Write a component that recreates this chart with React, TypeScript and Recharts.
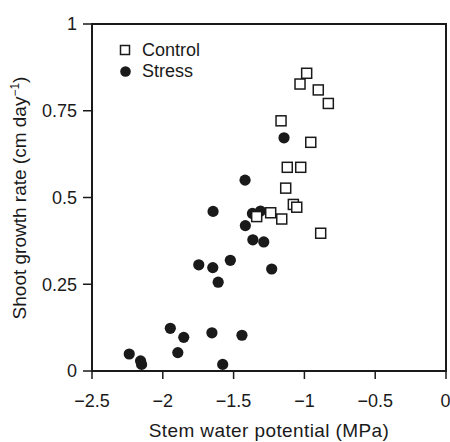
import { ReferenceArea, Legend, Scatter, ScatterChart, XAxis, YAxis } from "recharts"

const xTicks = [-2.5, -2, -1.5, -1, -0.5, 0]
const yTicks = [0, 0.25, 0.5, 0.75, 1]

const controlX = [-0.984, -1.031, -0.902, -0.831, -1.165, -0.955, -1.121, -1.026, -1.132, -1.078, -1.054, -1.337, -1.238, -1.16, -0.885]
const controlY = [0.858, 0.827, 0.81, 0.771, 0.721, 0.659, 0.587, 0.587, 0.527, 0.48, 0.472, 0.445, 0.456, 0.438, 0.397]

const stressX = [-1.144, -1.419, -1.645, -1.367, -1.31, -1.417, -1.364, -1.287, -1.746, -1.647, -1.523, -1.609, -1.231, -1.947, -1.852, -1.653, -1.441, -1.894, -2.237, -2.157, -2.15, -1.577]
const stressY = [0.672, 0.55, 0.46, 0.454, 0.461, 0.419, 0.378, 0.372, 0.306, 0.298, 0.319, 0.256, 0.294, 0.123, 0.097, 0.11, 0.103, 0.053, 0.049, 0.029, 0.019, 0.019]

const controlData = controlX.map((x, i) => ({ x, y: controlY[i] }))
const stressData = stressX.map((x, i) => ({ x, y: stressY[i] }))

const ink = "#1a1a1a"
const font = "'Liberation Sans', Arial, sans-serif"

const fmt = (v: number) => (v < 0 ? "\u2212" + String(-v) : String(v))

const SquareDot = (props: any) => {
  const { cx, cy } = props
  if (cx == null || cy == null) return null
  return <rect x={cx - 5} y={cy - 5} width={10} height={10} fill="#fff" stroke={ink} strokeWidth={1.5} />
}

const RoundDot = (props: any) => {
  const { cx, cy } = props
  if (cx == null || cy == null) return null
  return <circle cx={cx} cy={cy} r={5.6} fill={ink} />
}

const LegendBox = () => (
  <svg width={110} height={48} style={{ display: "block" }}>
    <rect x={8.5} y={9.5} width={9} height={9} fill="#fff" stroke={ink} strokeWidth={1.5} />
    <text x={30} y={20} fontSize={18} fill={ink} fontFamily={font}>Control</text>
    <circle cx={13.5} cy={35.5} r={5.3} fill={ink} />
    <text x={30} y={41} fontSize={18} fill={ink} fontFamily={font}>Stress</text>
  </svg>
)

export default function App() {
  return (
    <div style={{ position: "absolute", left: 0, top: 0, background: "#fff" }}>
      <ScatterChart width={450} height={442} margin={{ top: 24, right: 4, left: 0, bottom: 0 }}>
        <XAxis
          type="number"
          dataKey="x"
          domain={[-2.5, 0]}
          ticks={xTicks}
          tickFormatter={fmt}
          height={71}
          tickSize={8}
          tickMargin={15}
          axisLine={{ stroke: ink, strokeWidth: 2 }}
          tickLine={{ stroke: ink, strokeWidth: 1.5 }}
          tick={{ fill: ink, fontSize: 18, fontFamily: font }}
          label={{
            content: () => (
              <text x={269} y={437} textAnchor="middle" fontSize={19} letterSpacing={0.4} fill={ink} fontFamily={font}>
                Stem water potential (MPa)
              </text>
            ),
          }}
        />
        <YAxis
          type="number"
          dataKey="y"
          domain={[0, 1]}
          ticks={yTicks}
          width={92}
          tickSize={9}
          tickMargin={6}
          axisLine={{ stroke: ink, strokeWidth: 2 }}
          tickLine={{ stroke: ink, strokeWidth: 1.5 }}
          tick={{ fill: ink, fontSize: 18, fontFamily: font }}
          label={{
            content: () => (
              <text transform="translate(26,198) rotate(-90)" textAnchor="middle" fontSize={19} fill={ink} fontFamily={font}>
                <tspan>Shoot growth rate (cm day</tspan>
                <tspan dy={-7} fontSize={12}>{"\u22121"}</tspan>
                <tspan dy={7}>)</tspan>
              </text>
            ),
          }}
        />
        <ReferenceArea x1={-2.5} x2={0} y1={0} y2={1} fill="none" stroke={ink} strokeWidth={2} />
        <Legend
          layout="vertical"
          align="center"
          verticalAlign="middle"
          wrapperStyle={{ left: 112, top: 36, width: 110 }}
          content={() => <LegendBox />}
        />
        <Scatter name="Stress" data={stressData} shape={RoundDot} isAnimationActive={false} />
        <Scatter name="Control" data={controlData} shape={SquareDot} isAnimationActive={false} />
      </ScatterChart>
    </div>
  )
}
